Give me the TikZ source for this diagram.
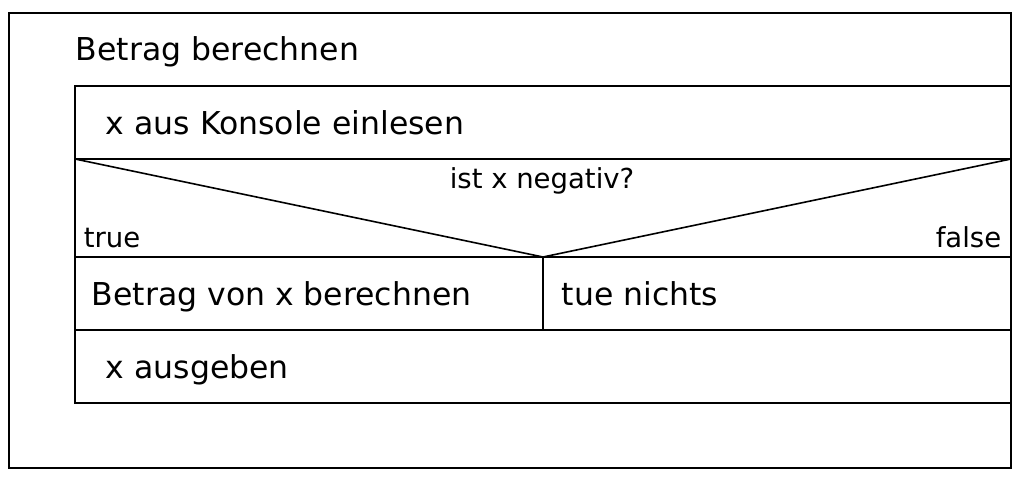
\documentclass[tikz,border=0pt]{standalone}
\usepackage{fontspec}
\setmainfont{DejaVu Sans}
\begin{document}
\begin{tikzpicture}[x=1pt,y=-1pt,line width=1.6pt,
  big/.style={inner sep=0pt,font=\fontsize{31.5}{38}\selectfont},
  small/.style={inner sep=0pt,font=\fontsize{27.5}{33}\selectfont}]
\useasboundingbox (0,0) rectangle (1024,481);
\draw (9,13) rectangle (1011,468);
\draw (75,86) rectangle (1011,403);
\draw (75,159) -- (1011,159);
\draw (75,257) -- (1011,257);
\draw (75,330) -- (1011,330);
\draw (543,257) -- (543,330);
\coordinate (dl) at (75,159);
\coordinate (dr) at (1011,159);
\coordinate (apex) at (543,257);
\draw (dl) -- (apex) -- (dr);
\node[big,anchor=base west] (title) at (75,61) {Betrag berechnen};
\node[big,anchor=base west] (read) at (105,135) {x aus Konsole einlesen};
\node[small,anchor=base west] (cond) at (449,189) {ist x negativ?};
\node[small,anchor=base west] (t) at (83,247) {true};
\node[small,anchor=base east] (f) at (1002,247) {false};
\node[big,anchor=base west] (yes) at (91,305) {Betrag von x berechnen};
\node[big,anchor=base west] (no) at (561,305) {tue nichts};
\node[big,anchor=base west] (out) at (105,378) {x ausgeben};
\end{tikzpicture}
\end{document}
